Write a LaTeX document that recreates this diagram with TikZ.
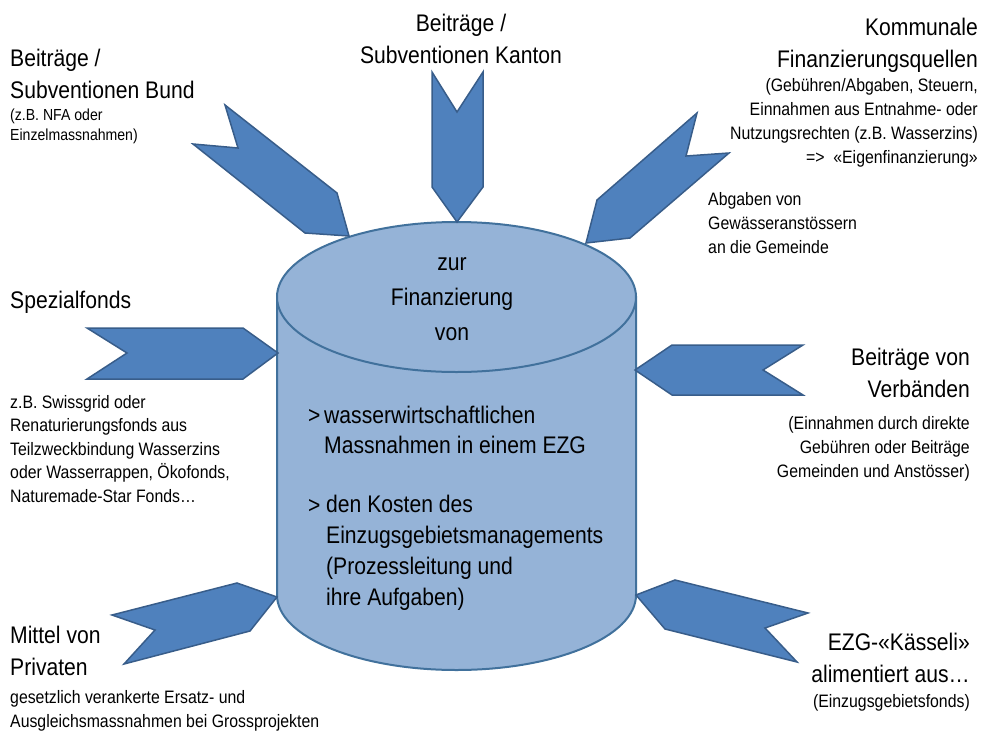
\documentclass[tikz,border=0pt]{standalone}
\usepackage{fontspec}
\setmainfont{Liberation Sans}[FakeStretch=0.88]
\usepackage{xcolor}
\usetikzlibrary{positioning}

\definecolor{chevfill}{HTML}{4F81BD}
\definecolor{chevline}{HTML}{385D8A}
\definecolor{cylfill}{HTML}{95B3D7}
\definecolor{cylline}{HTML}{41719C}

\tikzset{
    chev/.style={fill=chevfill, draw=chevline, line width=1.5pt, line join=miter},
    cyl/.style={fill=cylfill, draw=cylline, line width=2pt},
    headtxt/.style={inner sep=0pt, font=\fontsize{24}{31.5}\selectfont},
    notetxt/.style={inner sep=0pt, font=\fontsize{18}{24}\selectfont},
    tinytxt/.style={inner sep=0pt, font=\fontsize{16}{20}\selectfont}
}

\begin{document}
\begin{tikzpicture}[x=1pt, y=-1pt]
        % 绘制资金来源示意图 (多行节点的 base = 最后一行基线)
        \useasboundingbox (0,0) rectangle (982,731);

        % 圆柱
        \draw[cyl] (277,297) -- (277,595)
            arc[start angle=180, end angle=360, x radius=179.5pt, y radius=75pt]
            -- (636,297) -- cycle;
        \draw[cyl] (456.5,297) ellipse[x radius=179.5pt, y radius=75pt];

        % 箭头
        \draw[chev] (225,105) -- (238,148) -- (193,144) -- (305,233) -- (349,236) -- (337,193) -- cycle;
        \draw[chev] (432,72) -- (457,112) -- (483,72) -- (483,187) -- (457,222) -- (432,187) -- cycle;
        \draw[chev] (697,113) -- (686,156) -- (729,153) -- (630,238) -- (586,243) -- (597,200) -- cycle;
        \draw[chev] (87,328) -- (127,353) -- (87,379) -- (243,379) -- (278,353) -- (243,328) -- cycle;
        \draw[chev] (803,345) -- (763,370) -- (803,395) -- (672,395) -- (635,370) -- (672,345) -- cycle;
        \draw[chev] (112,615) -- (155,630) -- (124,664) -- (250,631) -- (277,597) -- (237,583) -- cycle;
        \draw[chev] (808,613) -- (765,628) -- (797,662) -- (665,629) -- (636,595) -- (675,580) -- cycle;

        % 文字
        \node[headtxt, anchor=base west, align=left] (bund) at (10,98) {Beiträge /\\Subventionen Bund};
        \node[tinytxt, anchor=base west, align=left] (bundnote) at (10,140) {(z.B. NFA oder\\Einzelmassnahmen)};

        \node[headtxt, anchor=base, align=center] (kanton) at (461,63) {Beiträge /\\Subventionen Kanton};

        \node[headtxt, anchor=base east, align=right, font=\fontsize{24}{32}\selectfont] (kommunal) at (978,67) {Kommunale\\Finanzierungsquellen};
        \node[notetxt, anchor=base east, align=right, font=\fontsize{18}{23.7}\selectfont] (kommunalnote) at (978,163)
            {(Gebühren/Abgaben, Steuern,\\Einnahmen aus Entnahme- oder\\Nutzungsrechten (z.B. Wasserzins)\\=>~~«Eigenfinanzierung»};
        \node[notetxt, anchor=base west, align=left] (abgaben) at (708,253)
            {Abgaben von\\Gewässeranstössern\\an die Gemeinde};

        \node[headtxt, anchor=base west] (spezial) at (10,308) {Spezialfonds};
        \node[notetxt, anchor=base west, align=left, font=\fontsize{18}{23.5}\selectfont] (spezialnote) at (10,502)
            {z.B. Swissgrid oder\\Renaturierungsfonds aus\\Teilzweckbindung Wasserzins\\oder Wasserrappen, Ökofonds,\\Naturemade-Star Fonds…};

        \node[headtxt, anchor=base east, align=right, font=\fontsize{24}{32}\selectfont] (verband) at (970,397) {Beiträge von\\Verbänden};
        \node[notetxt, anchor=base east, align=right] (verbandnote) at (970,477)
            {(Einnahmen durch direkte\\Gebühren oder Beiträge\\Gemeinden und Anstösser)};

        \node[headtxt, anchor=base west, align=left, font=\fontsize{24}{32}\selectfont] (privat) at (10,675) {Mittel von\\Privaten};
        \node[notetxt, anchor=base west, align=left] (privatnote) at (10,727)
            {gesetzlich verankerte Ersatz- und\\Ausgleichsmassnahmen bei Grossprojekten};

        \node[headtxt, anchor=base east, align=right, font=\fontsize{24}{32}\selectfont] (kasse) at (970,682) {EZG-«Kässeli»\\alimentiert aus…};
        \node[notetxt, anchor=base east] (kassenote) at (970,707) {(Einzugsgebietsfonds)};

        \node[headtxt, anchor=base, align=center, font=\fontsize{24}{35}\selectfont] (zweck) at (452,340) {zur\\Finanzierung\\von};
        \node[headtxt, anchor=base west] (pfeila) at (308,423) {>};
        \node[headtxt, anchor=base west, align=left, font=\fontsize{24}{30}\selectfont] (massn) at (324,453)
            {wasserwirtschaftlichen\\Massnahmen in einem EZG};
        \node[headtxt, anchor=base west] (pfeilb) at (308,513) {>};
        \node[headtxt, anchor=base west, align=left, font=\fontsize{24}{30.7}\selectfont] (kosten) at (326,605)
            {den Kosten des\\Einzugsgebietsmanagements\\(Prozessleitung und\\ihre Aufgaben)};
    \end{tikzpicture}
\end{document}
